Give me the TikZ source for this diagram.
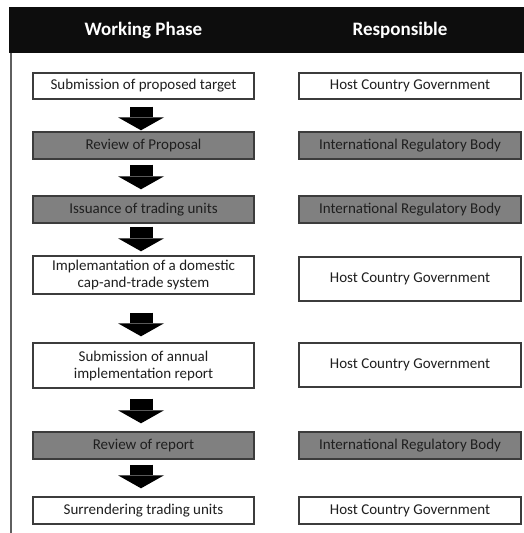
\documentclass[tikz,border=0pt]{standalone}
\usepackage{fontspec}
\setmainfont{Carlito}
\usetikzlibrary{arrows.meta,calc}
\definecolor{headbg}{HTML}{0D0D0D}
\definecolor{boxgray}{HTML}{808080}
\definecolor{edge}{HTML}{3C3C3C}
\definecolor{railgray}{HTML}{5F5F5F}
\begin{document}
\begin{tikzpicture}[x=1pt,y=-1pt,
  basebox/.style={draw=edge, line width=1.4pt, inner sep=0pt, align=center,
    font=\fontsize{15}{17}\selectfont, text=black!88},
  phase/.style={basebox, fill=white, minimum width=221pt},
  phasegray/.style={phase, fill=boxgray},
  actor/.style={basebox, fill=white, minimum width=222pt},
  actorgray/.style={actor, fill=boxgray},
  headtext/.style={text=white, font=\fontsize{19}{21}\selectfont\bfseries, inner sep=0pt},
  flow/.style={draw=black, line width=23pt,
    -{Triangle[width=46pt,length=13pt,line width=0pt]}},
  rail/.style={draw=railgray, line width=2pt}
]
\useasboundingbox (0,0) rectangle (524,533);

% header band and side rule
\node[fill=headbg, minimum width=515pt, minimum height=46pt, inner sep=0pt] (head) at (266.5,30) {};
\node[headtext] (hphase) at (143.5,30) {Working Phase};
\node[headtext] (hresp) at (400,30) {Responsible};
\coordinate (railtop) at (11,53);
\coordinate (railend) at (11,533);
\draw[rail] (railtop) -- (railend);

% working phases
\node[phase, minimum height=26pt] (p1) at (143.5,86) {Submission of proposed target};
\node[phasegray, minimum height=27pt] (p2) at (143.5,145.5) {Review of Proposal};
\node[phasegray, minimum height=27pt] (p3) at (143.5,209.5) {Issuance of trading units};
\node[phase, minimum height=38pt] (p4) at (143.5,275) {Implemantation of a domestic\\cap-and-trade system};
\node[phase, minimum height=45pt] (p5) at (143.5,365.5) {Submission of annual\\implementation report};
\node[phasegray, minimum height=27pt] (p6) at (143.5,445.5) {Review of report};
\node[phase, minimum height=27pt] (p7) at (143.5,510.5) {Surrendering trading units};

% responsible parties
\node[actor, minimum height=26pt] (r1) at (410,86) {Host Country Government};
\node[actorgray, minimum height=27pt] (r2) at (410,145.5) {International Regulatory Body};
\node[actorgray, minimum height=27pt] (r3) at (410,209.5) {International Regulatory Body};
\node[actor, minimum height=44pt] (r4) at (410,279) {Host Country Government};
\node[actor, minimum height=44pt] (r5) at (410,365) {Host Country Government};
\node[actorgray, minimum height=27pt] (r6) at (410,445.5) {International Regulatory Body};
\node[actor, minimum height=27pt] (r7) at (410,510.5) {Host Country Government};

% block arrows between phases
\draw[flow, shorten <=7pt, shorten >=1pt] ($(p1.south)+(-2.5,0)$) -- ($(p2.north)+(-2.5,0)$);
\draw[flow, shorten <=5pt, shorten >=6pt] ($(p2.south)+(-2.5,0)$) -- ($(p3.north)+(-2.5,0)$);
\draw[flow, shorten <=3pt, shorten >=4pt] ($(p3.south)+(-2.5,0)$) -- ($(p4.north)+(-2.5,0)$);
\draw[flow, shorten <=18pt, shorten >=6pt] ($(p4.south)+(-2.5,0)$) -- ($(p5.north)+(-2.5,0)$);
\draw[flow, shorten <=10pt, shorten >=8pt] ($(p5.south)+(-2.5,0)$) -- ($(p6.north)+(-2.5,0)$);
\draw[flow, shorten <=5pt, shorten >=8pt] ($(p6.south)+(-2.5,0)$) -- ($(p7.north)+(-2.5,0)$);
\end{tikzpicture}
\end{document}
